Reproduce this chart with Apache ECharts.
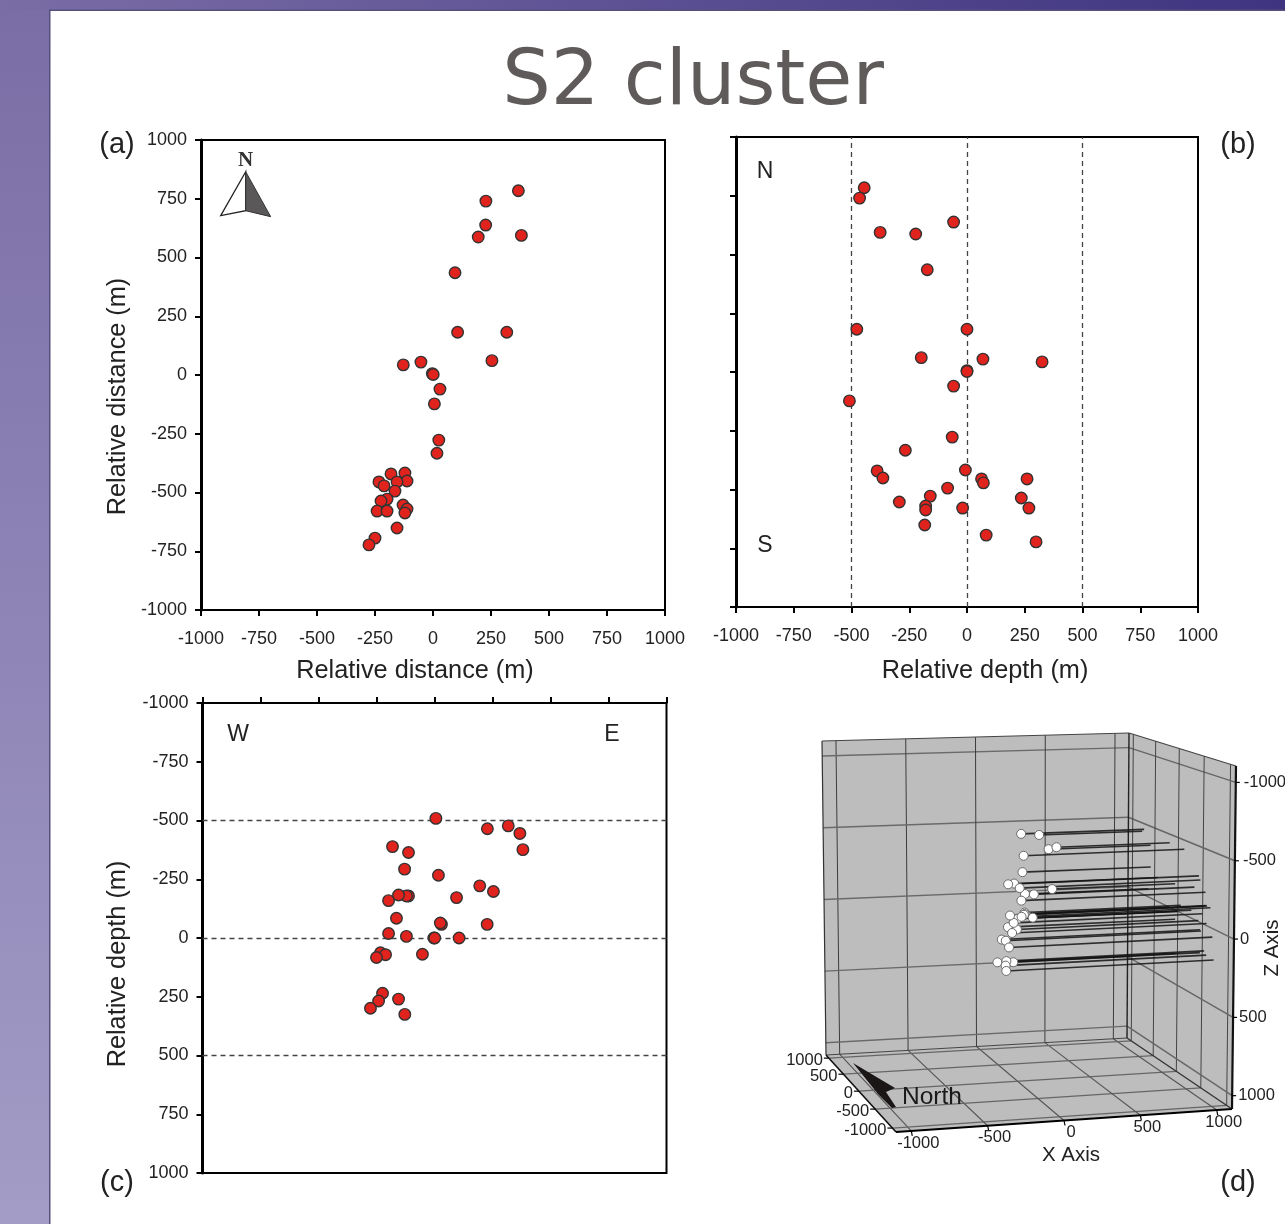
<!DOCTYPE html>
<html><head><meta charset="utf-8">
<style>html,body{margin:0;padding:0;background:#fff}#c{width:1285px;height:1224px}</style>
<script src="https://cdn.jsdelivr.net/npm/echarts@6/dist/echarts.min.js"></script>
</head><body><div id="c"></div>
<script>
// Event coordinates (metres): east-west distance, north-south distance, depth
const eventX = [368,228,227,195,381,95,106,318,254,-128,-52,-3,1,30,6,25,17,-233,-211,-181,-121,-112,-155,-164,-198,-224,-241,-198,-129,-112,-121,-155,-250,-276];
const eventY = [784,740,638,587,594,435,182,182,61,43,55,6,2,-60,-123,-277,-333,-455,-472,-421,-417,-451,-455,-494,-528,-536,-579,-579,-553,-570,-587,-651,-694,-723];
const eventD = [-445,-465,-58,-222,-376,-172,0,-477,-198,325,69,0,0,-58,-509,-64,-267,63,71,-389,-7,-364,260,-84,-159,235,268,-19,-293,-179,-179,-183,83,299];
const dashedLevels = [-500,0,500];
const ticks3d = [-1000,-500,0,500,1000];

const FONT = '"Liberation Sans", Arial, sans-serif';
const INK = '#222';
const chart = echarts.init(document.getElementById('c'), null, {renderer:'canvas'});
const plain = v => String(v);

function nameStyle(padding){return {color:INK, fontSize:25.3, fontFamily:FONT, padding};}
function axisBase(extra){
  return Object.assign({
    type:'value', min:-1000, max:1000, interval:250, splitLine:{show:false},
    axisLine:{show:true, onZero:false, lineStyle:{color:'#000', width:2}},
    axisTick:{show:true, length:6, lineStyle:{color:'#000', width:2}},
    axisLabel:{show:true, color:INK, fontSize:18, fontFamily:FONT, margin:14, formatter:plain},
    nameLocation:'middle'
  }, extra);
}
const grids = [
  {left:201, top:140, width:464, height:470, show:true, borderColor:'#000', borderWidth:2, backgroundColor:'transparent'},
  {left:736, top:137, width:462, height:470, show:true, borderColor:'#000', borderWidth:2, backgroundColor:'transparent'},
  {left:202.5, top:703, width:464, height:470, show:true, borderColor:'#000', borderWidth:2, backgroundColor:'transparent'}
];
const thick = {show:true, onZero:false, lineStyle:{color:'#000', width:3}};
const xLabels = {color:INK,fontSize:18,fontFamily:FONT,margin:20,formatter:plain};
const xAxes = [
  axisBase({gridIndex:0, name:'Relative distance (m)', nameGap:48.5, nameTextStyle:nameStyle([0,36,0,0]), axisLabel:xLabels}),
  axisBase({gridIndex:1, name:'Relative depth (m)', nameGap:51.5, nameTextStyle:nameStyle([0,0,0,36]), axisLabel:xLabels}),
  axisBase({gridIndex:2, position:'top', axisLabel:{show:false}})
];
const yAxes = [
  axisBase({gridIndex:0, name:'Relative distance (m)', nameGap:70.5, nameTextStyle:nameStyle([0,43,0,0]), axisLine:thick}),
  axisBase({gridIndex:1, axisLabel:{show:false}, axisLine:thick}),
  axisBase({gridIndex:2, inverse:true, name:'Relative depth (m)', nameGap:71.5, nameTextStyle:nameStyle([0,52,0,0]), axisLine:thick})
];
const dashStyle = {color:'#444', width:1.3, type:[5,4]};
function redScatter(i, data, mark){
  return {type:'scatter', xAxisIndex:i, yAxisIndex:i, data, symbol:'circle', symbolSize:11.5, z:5,
    itemStyle:{color:'#e0231c', borderColor:'#333', borderWidth:1.4, opacity:1},
    markLine: mark ? {silent:true, symbol:'none', label:{show:false}, animation:false, lineStyle:dashStyle, data:mark} : undefined};
}

// ---- Panel (d): perspective box, projected from data coordinates ----
const BOXR = 1100, ZTOP = -1105, ZBOT = 1085;
const corner = {
  BLT:[822,741], BRT:[1129,733], FLT:[895,778], FRT:[1236,766],
  BLB:[826,1055], BRB:[1127,1038], FLB:[896,1132], FRB:[1232,1109]
};
function mix(a,b,t){return [a[0]+(b[0]-a[0])*t, a[1]+(b[1]-a[1])*t];}
function depthFrac(y){const v0=(BOXR-y)/(2*BOXR); return v0/(v0+1.128*(1-v0));}
function project(x,y,z){
  const u=(x+BOXR)/(2*BOXR), v=depthFrac(y), w=(z-ZTOP)/(ZBOT-ZTOP);
  const top=mix(mix(corner.BLT,corner.BRT,u),mix(corner.FLT,corner.FRT,u),v);
  const bot=mix(mix(corner.BLB,corner.BRB,u),mix(corner.FLB,corner.FRB,u),v);
  return mix(top,bot,w);
}
function projectEvent(x,y,z){const v=depthFrac(y); return project(x,y,z*(1-0.5*v*v));}
const seg=(p,q,color,width)=>({type:'line',shape:{x1:p[0],y1:p[1],x2:q[0],y2:q[1]},style:{stroke:color,lineWidth:width}});
const poly=(pts,fill)=>({type:'polygon',shape:{points:pts},style:{fill,stroke:null}});
const label=(t,x,y,align,size,extra)=>Object.assign({type:'text',x,y,style:{text:t,fill:INK,fontFamily:FONT,fontSize:size,align,verticalAlign:'middle'}},extra||{});

function renderBox(){
  const c=corner, R=BOXR, kids=[];
  const wall='#bdbdbd';
  kids.push(poly([c.BLT,c.BRT,c.BRB,c.BLB],wall), poly([c.BRT,c.FRT,c.FRB,c.BRB],wall), poly([c.BLB,c.BRB,c.FRB,c.FLB],wall));
  ticks3d.forEach(t=>{
    kids.push(seg(project(t,R,ZTOP),project(t,R,ZBOT),'#3c3c3c',1));        // back wall verticals
    kids.push(seg(project(-R,R,t),project(R,R,t),'#6a6a6a',1.4));            // back wall horizontals
    kids.push(seg(project(R,t,ZTOP),project(R,t,ZBOT),'#444',1));            // right wall verticals
    kids.push(seg(project(R,R,t),project(R,-R,t),'#666',1.4));               // right wall horizontals
    kids.push(seg(project(t,R,ZBOT),project(t,-R,ZBOT),'#555',1.1));         // floor lines
    kids.push(seg(project(-R,t,ZBOT),project(R,t,ZBOT),'#666',1.2));
  });
  kids.push(seg(c.BLT,c.BRT,'#444',1.2),seg(c.BLT,c.BLB,'#333',1.2),seg(c.BLB,c.BRB,'#444',1.2),
            seg(c.BRT,c.BRB,'#222',1.4),seg(c.BRT,c.FRT,'#444',1.2),seg(c.BRB,c.FRB,'#333',1.4),
            seg(c.BLB,c.FLB,'#111',1.6),seg(c.FLB,c.FRB,'#000',2),seg(c.FRT,c.FRB,'#111',2.2));
  ticks3d.forEach(t=>{
    const a=project(t,-R,ZBOT); kids.push(seg(a,[a[0]+1,a[1]+5],'#000',1.2));
    kids.push(label(String(t),a[0]+7,a[1]+12,'center',16.5));
    const b=project(-R,t,ZBOT); kids.push(seg(b,[b[0]-5,b[1]],'#000',1.2));
    kids.push(label(String(t),b[0]-6,b[1]+2,'right',16.5));
    const d=project(R,-R,t); kids.push(seg(d,[d[0]+4,d[1]],'#000',1.2));
    kids.push(label(String(t),d[0]+(t<0?8:6),d[1],'left',16.5));
  });
  kids.push(label('X Axis',1071,1155,'center',20.5));
  kids.push(label('Z Axis',1272,948,'center',20.5,{rotation:Math.PI/2}));
  return {type:'group',children:kids};
}
function renderLine(p,api){
  const a=projectEvent(api.value(0),api.value(1),api.value(2));
  const b=projectEvent(BOXR,api.value(1),api.value(2));
  return seg(a,b,'rgba(20,20,20,0.85)',1.6);
}
function renderDot(p,api){
  const a=projectEvent(api.value(0),api.value(1),api.value(2));
  return {type:'circle',shape:{cx:a[0],cy:a[1],r:4.5},style:{fill:'#fff',stroke:'#6a6a6a',lineWidth:1}};
}
const events3d = eventX.map((x,i)=>[x,eventY[i],eventD[i]]);

const txt=(t,x,y,size,extra)=>({type:'text',z:50,x,y,style:Object.assign({text:t,fill:INK,fontFamily:FONT,fontSize:size,align:'center',verticalAlign:'middle'},extra||{})});

const option = {
  animation:false,
  backgroundColor:'#ffffff',
  grid:grids, xAxis:xAxes, yAxis:yAxes,
  series:[
    redScatter(0, eventX.map((x,i)=>[x,eventY[i]])),
    redScatter(1, eventD.map((d,i)=>[d,eventY[i]]), dashedLevels.map(v=>({xAxis:v}))),
    redScatter(2, eventX.map((x,i)=>[x,eventD[i]]), dashedLevels.map(v=>({yAxis:v}))),
    {type:'custom',coordinateSystem:'none',silent:true,z:1,data:[[0]],renderItem:renderBox},
    {type:'custom',coordinateSystem:'none',silent:true,z:2,data:events3d,renderItem:renderLine},
    {type:'custom',coordinateSystem:'none',silent:true,z:3,data:events3d,renderItem:renderDot}
  ],
  graphic:{elements:[
    {type:'rect',z:-20,shape:{x:0,y:0,width:50,height:1224},
      style:{fill:new echarts.graphic.LinearGradient(0,0,0,1,[{offset:0,color:'#7a6da6'},{offset:1,color:'#a29cc6'}])}},
    {type:'rect',z:-19,shape:{x:0,y:0,width:1285,height:10},
      style:{fill:new echarts.graphic.LinearGradient(0,0,1,0,[{offset:0,color:'#7a6da6'},{offset:1,color:'#3e3480'}])}},
    {type:'rect',z:-18,shape:{x:49,y:10,width:1.5,height:1214},style:{fill:'#56507c'}},
    {type:'rect',z:-18,shape:{x:49,y:9.5,width:1236,height:1.5},style:{fill:'#56507c'}},
    txt('S2 cluster',693,84,76.5,{fill:'#5f5b5b',fontFamily:'"DejaVu Sans"'}),
    txt('(a)',117,145,29), txt('(b)',1238,145,29), txt('(c)',117,1183,29), txt('(d)',1238,1183,29),
    txt('N',765,172,23), txt('S',765,546,23), txt('W',238,735,23), txt('E',612,735,23),
    txt('N',245.5,161,21,{fontFamily:'"Liberation Serif"',fontWeight:'bold',fill:'#333'}),
    {type:'polygon',z:50,shape:{points:[[245.7,171.7],[220.7,215.7],[245.7,210.7]]},style:{fill:'#fff',stroke:'#222',lineWidth:1.3,lineJoin:'miter'}},
    {type:'polygon',z:50,shape:{points:[[245.7,171.7],[270.7,216.7],[245.7,210.7]]},style:{fill:'#5a5858',stroke:'#333',lineWidth:1}},
    {type:'polygon',z:50,shape:{points:[[853,1063],[895,1088],[886,1092],[896,1107],[892,1108],[878,1094]]},style:{fill:'#1a1616'}},
    txt('North',932,1097,24.5,{fill:'#1a1a1a'})
  ]}
};
chart.setOption(option);
</script></body></html>
